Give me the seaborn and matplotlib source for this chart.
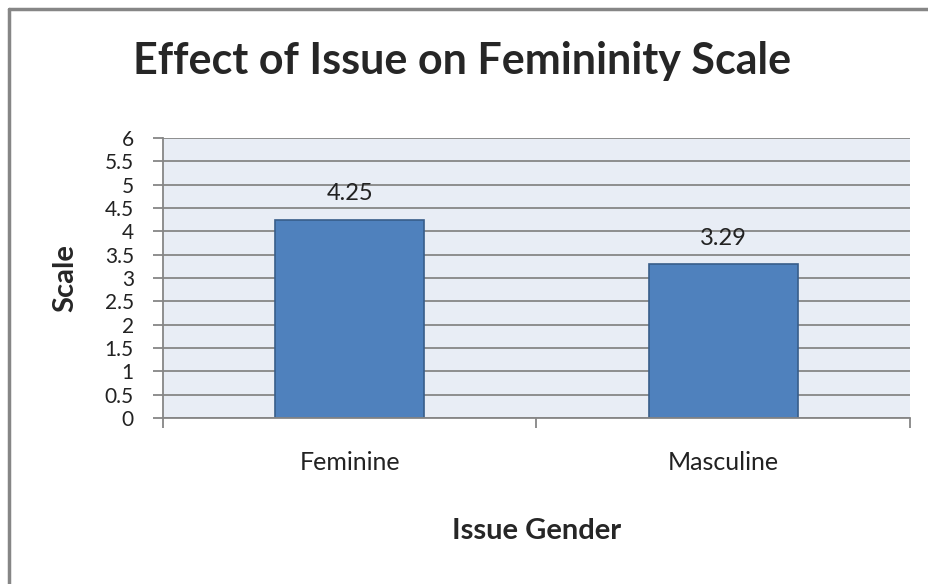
import numpy as np
import pandas as pd
import seaborn as sns
import matplotlib.pyplot as plt
from matplotlib.lines import Line2D

# Dados
categories = ["Feminine", "Masculine"]
values = [4.25, 3.29]
value_labels = ["4.25", "3.29"]
ytick_values = [0, 0.5, 1, 1.5, 2, 2.5, 3, 3.5, 4, 4.5, 5, 5.5, 6]
ytick_labels = ["0", "0.5", "1", "1.5", "2", "2.5", "3", "3.5", "4", "4.5", "5", "5.5", "6"]

df = pd.DataFrame({"Issue Gender": categories, "Scale": values})

# Estilo
sns.set_theme(style="white")
plt.rcParams['font.family'] = ['Lato', 'DejaVu Sans']

fig = plt.figure(figsize=(9.29, 5.84), dpi=100)
ax = fig.add_axes([0.1755, 0.2842, 0.804, 0.4795])
ax.set_facecolor("#e8edf5")

sns.barplot(data=df, x="Issue Gender", y="Scale", ax=ax, width=0.4,
            color="#4f81bd", edgecolor="#385d8a", linewidth=1.2, saturation=1)

ax.bar_label(ax.containers[0], labels=value_labels, padding=11,
             fontsize=17, color="#222222")

# Eixos
ax.set_xlim(-0.5, len(categories) - 0.5)
ax.set_ylim(0, 6)
ax.set_yticks(ytick_values)
ax.set_yticklabels(ytick_labels, fontsize=15, color="#222222")
ax.yaxis.grid(True, color="#868686", linewidth=1.3)
ax.set_axisbelow(True)

ax.set_xticks(range(len(categories)))
ax.set_xticklabels(categories, fontsize=18, color="#222222")
ax.set_xticks(np.arange(-0.5, len(categories)), minor=True)
ax.tick_params(axis="x", which="major", length=0, pad=24)
ax.tick_params(axis="x", which="minor", length=7, width=1.3, color="#868686", bottom=True)
ax.tick_params(axis="y", length=7, width=1.3, color="#868686", pad=14, left=True)

for side in ["top", "right"]:
    ax.spines[side].set_visible(False)
for side in ["left", "bottom"]:
    ax.spines[side].set_color("#868686")
    ax.spines[side].set_linewidth(1.3)

ax.set_xlabel("Issue Gender", fontsize=21, fontweight="bold", va="center")
ax.set_ylabel("Scale", fontsize=21, fontweight="bold", va="center")
ax.xaxis.set_label_coords(0.5, -0.404)
ax.yaxis.set_label_coords(-0.131, 0.5)

fig.text(0.497, 0.895, "Effect of Issue on Femininity Scale", ha="center", va="center",
         fontsize=31, fontweight="bold")

# Moldura externa (topo e esquerda)
fig.add_artist(Line2D([0.0095, 1.0], [0.9846, 0.9846], transform=fig.transFigure,
                      color="#868686", linewidth=2.5))
fig.add_artist(Line2D([0.0095, 0.0095], [0.0, 0.9846], transform=fig.transFigure,
                      color="#868686", linewidth=2.5))

plt.savefig("out.png", dpi=100)
